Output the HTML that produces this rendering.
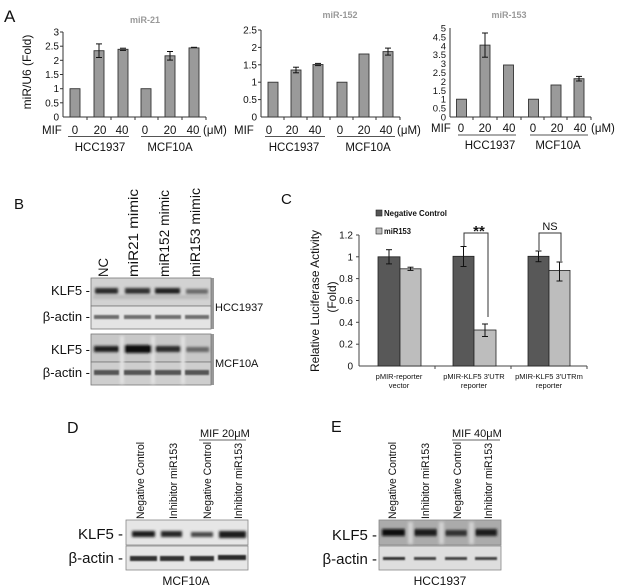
<!DOCTYPE html>
<html><head><meta charset="utf-8">
<style>
html,body{margin:0;padding:0;background:#fff;}
svg{display:block;}
text{font-family:"Liberation Sans",Arial,sans-serif;fill:#111;}
</style></head>
<body>
<svg width="618" height="588" viewBox="0 0 618 588" xmlns="http://www.w3.org/2000/svg">
<defs>
<filter id="bl" x="-20%" y="-100%" width="140%" height="300%"><feGaussianBlur stdDeviation="1.3"/></filter>
<filter id="bl2" x="-20%" y="-100%" width="140%" height="300%"><feGaussianBlur stdDeviation="0.9"/></filter>
</defs>

<!-- ================= PANEL A ================= -->
<text x="4" y="22" font-size="17">A</text>
<text transform="translate(31,72) rotate(-90)" font-size="12" text-anchor="middle">miR/U6 (Fold)</text>

<!-- Chart A1 -->
<text x="145" y="23" font-size="9" font-weight="bold" fill="#999" style="fill:#999" text-anchor="middle">miR-21</text>
<g font-size="10" text-anchor="end">
<text x="59" y="35.5">3</text><text x="59" y="49.7">2.5</text><text x="59" y="63.8">2</text>
<text x="59" y="78">1.5</text><text x="59" y="92.2">1</text><text x="59" y="106.3">0.5</text><text x="59" y="120.5">0</text>
</g>
<g stroke="#333" stroke-width="1">
<line x1="63" y1="32" x2="63" y2="117"/><line x1="63" y1="117" x2="206" y2="117"/>
<line x1="60" y1="32" x2="63" y2="32"/><line x1="60" y1="46.2" x2="63" y2="46.2"/><line x1="60" y1="60.3" x2="63" y2="60.3"/>
<line x1="60" y1="74.5" x2="63" y2="74.5"/><line x1="60" y1="88.7" x2="63" y2="88.7"/><line x1="60" y1="102.8" x2="63" y2="102.8"/>
<line x1="87" y1="117" x2="87" y2="120"/><line x1="111" y1="117" x2="111" y2="120"/><line x1="135" y1="117" x2="135" y2="120"/>
<line x1="158" y1="117" x2="158" y2="120"/><line x1="182" y1="117" x2="182" y2="120"/><line x1="206" y1="117" x2="206" y2="120"/>
</g>
<g fill="#9a9a9a" stroke="#333" stroke-width="0.9">
<rect x="70" y="88.7" width="10" height="28.3"/><rect x="94" y="50.7" width="10" height="66.3"/>
<rect x="118" y="49.3" width="10" height="67.7"/><rect x="141" y="88.7" width="10" height="28.3"/>
<rect x="165" y="55.8" width="10" height="61.2"/><rect x="189" y="47.9" width="10" height="69.1"/>
</g>
<g stroke="#111" stroke-width="1">
<line x1="99" y1="43.9" x2="99" y2="57.5"/><line x1="96" y1="43.9" x2="102" y2="43.9"/><line x1="96" y1="57.5" x2="102" y2="57.5"/>
<line x1="120" y1="48.2" x2="126" y2="48.2"/><line x1="120" y1="50.4" x2="126" y2="50.4"/>
<line x1="170" y1="51.5" x2="170" y2="60.1"/><line x1="167" y1="51.5" x2="173" y2="51.5"/><line x1="167" y1="60.1" x2="173" y2="60.1"/>
<line x1="191" y1="47.3" x2="197" y2="47.3"/>
</g>
<g font-size="11.5">
<text x="42" y="134">MIF</text>
<text x="75" y="134" text-anchor="middle">0</text><text x="100" y="134" text-anchor="middle">20</text><text x="122" y="134" text-anchor="middle">40</text>
<text x="145" y="134" text-anchor="middle">0</text><text x="170" y="134" text-anchor="middle">20</text><text x="193" y="134" text-anchor="middle">40</text>
<text x="203" y="134">(μM)</text>
<text x="100" y="151" text-anchor="middle">HCC1937</text><text x="170" y="151" text-anchor="middle">MCF10A</text>
</g>
<g stroke="#555" stroke-width="1"><line x1="68" y1="136.5" x2="129" y2="136.5"/><line x1="141" y1="136.5" x2="201" y2="136.5"/></g>

<!-- Chart A2 -->
<text x="340" y="18" font-size="9" font-weight="bold" style="fill:#999" text-anchor="middle">miR-152</text>
<g font-size="10" text-anchor="end">
<text x="257" y="33.5">2.5</text><text x="257" y="50.9">2</text><text x="257" y="68.3">1.5</text>
<text x="257" y="85.7">1</text><text x="257" y="103.1">0.5</text><text x="257" y="120.5">0</text>
</g>
<g stroke="#333" stroke-width="1">
<line x1="261" y1="30" x2="261" y2="117"/><line x1="261" y1="117" x2="400" y2="117"/>
<line x1="258" y1="30" x2="261" y2="30"/><line x1="258" y1="47.4" x2="261" y2="47.4"/><line x1="258" y1="64.8" x2="261" y2="64.8"/>
<line x1="258" y1="82.2" x2="261" y2="82.2"/><line x1="258" y1="99.6" x2="261" y2="99.6"/>
<line x1="284" y1="117" x2="284" y2="120"/><line x1="307" y1="117" x2="307" y2="120"/><line x1="330" y1="117" x2="330" y2="120"/>
<line x1="353" y1="117" x2="353" y2="120"/><line x1="376" y1="117" x2="376" y2="120"/><line x1="400" y1="117" x2="400" y2="120"/>
</g>
<g fill="#9a9a9a" stroke="#333" stroke-width="0.9">
<rect x="268" y="82.2" width="10" height="34.8"/><rect x="291" y="70" width="10" height="47"/>
<rect x="313" y="64.5" width="10" height="52.5"/><rect x="337" y="82.2" width="10" height="34.8"/>
<rect x="359" y="54" width="10" height="63"/><rect x="383" y="51.6" width="10" height="65.4"/>
</g>
<g stroke="#111" stroke-width="1">
<line x1="296" y1="67.2" x2="296" y2="72.8"/><line x1="293" y1="67.2" x2="299" y2="67.2"/><line x1="293" y1="72.8" x2="299" y2="72.8"/>
<line x1="315" y1="63.4" x2="321" y2="63.4"/><line x1="315" y1="65.6" x2="321" y2="65.6"/>
<line x1="388" y1="48.1" x2="388" y2="55.1"/><line x1="385" y1="48.1" x2="391" y2="48.1"/><line x1="385" y1="55.1" x2="391" y2="55.1"/>
</g>
<g font-size="11.5">
<text x="234" y="134">MIF</text>
<text x="269" y="134" text-anchor="middle">0</text><text x="292" y="134" text-anchor="middle">20</text><text x="315" y="134" text-anchor="middle">40</text>
<text x="340" y="134" text-anchor="middle">0</text><text x="364" y="134" text-anchor="middle">20</text><text x="386" y="134" text-anchor="middle">40</text>
<text x="397" y="134">(μM)</text>
<text x="294" y="151" text-anchor="middle">HCC1937</text><text x="368" y="151" text-anchor="middle">MCF10A</text>
</g>
<g stroke="#555" stroke-width="1"><line x1="265" y1="136.5" x2="325" y2="136.5"/><line x1="337" y1="136.5" x2="395" y2="136.5"/></g>

<!-- Chart A3 -->
<text x="509" y="18" font-size="9" font-weight="bold" style="fill:#999" text-anchor="middle">miR-153</text>
<g font-size="9.5" text-anchor="end">
<text x="446" y="31.5">5</text><text x="446" y="40.4">4.5</text><text x="446" y="49.3">4</text><text x="446" y="58.2">3.5</text>
<text x="446" y="67.1">3</text><text x="446" y="76">2.5</text><text x="446" y="84.9">2</text><text x="446" y="93.8">1.5</text>
<text x="446" y="102.7">1</text><text x="446" y="111.6">0.5</text><text x="446" y="120.5">0</text>
</g>
<g stroke="#333" stroke-width="1">
<line x1="450" y1="28" x2="450" y2="117"/><line x1="450" y1="117" x2="591" y2="117"/>
<line x1="473" y1="117" x2="473" y2="120"/><line x1="497" y1="117" x2="497" y2="120"/><line x1="521" y1="117" x2="521" y2="120"/>
<line x1="544" y1="117" x2="544" y2="120"/><line x1="567" y1="117" x2="567" y2="120"/><line x1="591" y1="117" x2="591" y2="120"/>
</g>
<g fill="#9a9a9a" stroke="#333" stroke-width="0.9">
<rect x="456.5" y="99.2" width="10" height="17.8"/><rect x="480" y="45.1" width="10" height="71.9"/>
<rect x="503.5" y="65" width="10" height="52"/><rect x="528.5" y="99.2" width="10" height="17.8"/>
<rect x="551" y="85" width="10" height="32"/><rect x="574" y="78.7" width="10" height="38.3"/>
</g>
<g stroke="#111" stroke-width="1">
<line x1="485" y1="33" x2="485" y2="57.2"/><line x1="482" y1="33" x2="488" y2="33"/><line x1="482" y1="57.2" x2="488" y2="57.2"/>
<line x1="579" y1="76.4" x2="579" y2="81"/><line x1="576" y1="76.4" x2="582" y2="76.4"/><line x1="576" y1="81" x2="582" y2="81"/>
</g>
<g font-size="11.5">
<text x="431" y="132">MIF</text>
<text x="461" y="132" text-anchor="middle">0</text><text x="485" y="132" text-anchor="middle">20</text><text x="509" y="132" text-anchor="middle">40</text>
<text x="533" y="132" text-anchor="middle">0</text><text x="557" y="132" text-anchor="middle">20</text><text x="580" y="132" text-anchor="middle">40</text>
<text x="591" y="132">(μM)</text>
<text x="490" y="149" text-anchor="middle">HCC1937</text><text x="558" y="149" text-anchor="middle">MCF10A</text>
</g>
<g stroke="#555" stroke-width="1"><line x1="458" y1="135" x2="516" y2="135"/><line x1="530" y1="135" x2="588" y2="135"/></g>

<!-- ================= PANEL B ================= -->
<text x="14" y="209" font-size="15">B</text>
<g font-size="14">
<text transform="translate(108,277) rotate(-90)" textLength="19" lengthAdjust="spacingAndGlyphs">NC</text>
<text transform="translate(138,277) rotate(-90)" textLength="88" lengthAdjust="spacingAndGlyphs">miR21 mimic</text>
<text transform="translate(169,277) rotate(-90)" textLength="87" lengthAdjust="spacingAndGlyphs">miR152 mimic</text>
<text transform="translate(200,277) rotate(-90)" textLength="89" lengthAdjust="spacingAndGlyphs">miR153 mimic</text>
</g>
<!-- blot 1 -->
<rect x="91" y="278" width="123" height="51" fill="#999"/>
<rect x="91" y="278" width="120" height="28" fill="#d2d2d2" stroke="#777" stroke-width="0.8"/>
<rect x="91" y="306" width="120" height="23" fill="#e4e4e4" stroke="#777" stroke-width="0.8"/>
<g filter="url(#bl)">
<rect x="95" y="288" width="23" height="6" fill="#2a2a2a"/>
<rect x="125" y="288" width="25" height="6" fill="#333"/>
<rect x="155" y="288" width="25" height="6" fill="#222"/>
<rect x="186" y="289" width="22" height="5" fill="#6a6a6a"/>
<rect x="93" y="295" width="116" height="4" fill="#bbb"/>
</g>
<g filter="url(#bl2)">
<rect x="94" y="315" width="25" height="4" fill="#6e6e6e"/>
<rect x="124" y="315" width="27" height="4" fill="#707070"/>
<rect x="155" y="315" width="26" height="4" fill="#707070"/>
<rect x="185" y="315" width="24" height="4" fill="#707070"/>
</g>
<!-- blot 2 -->
<rect x="91" y="334" width="123" height="51" fill="#999"/>
<rect x="91" y="334" width="120" height="28" fill="#c8c8c8" stroke="#777" stroke-width="0.8"/>
<rect x="91" y="362" width="120" height="23" fill="#cecece" stroke="#777" stroke-width="0.8"/>
<g filter="url(#bl)">
<rect x="120" y="336" width="4" height="48" fill="#e0e0e0"/>
<rect x="151" y="336" width="4" height="48" fill="#e0e0e0"/>
<rect x="181" y="336" width="4" height="48" fill="#e0e0e0"/>
<rect x="94" y="346" width="25" height="6" fill="#1e1e1e"/>
<rect x="124" y="345" width="28" height="8" fill="#0a0a0a"/>
<rect x="155" y="346" width="26" height="6" fill="#2a2a2a"/>
<rect x="186" y="347" width="23" height="5" fill="#666"/>
</g>
<g filter="url(#bl2)">
<rect x="94" y="370" width="25" height="5" fill="#555"/>
<rect x="124" y="370" width="27" height="5" fill="#555"/>
<rect x="155" y="370" width="26" height="5" fill="#555"/>
<rect x="185" y="370" width="24" height="5" fill="#555"/>
</g>
<g font-size="13" text-anchor="end">
<text x="90" y="295">KLF5 -</text>
<text x="90" y="321">β-actin -</text>
<text x="90" y="354">KLF5 -</text>
<text x="90" y="377">β-actin -</text>
</g>
<g font-size="11">
<text x="215" y="311">HCC1937</text>
<text x="215" y="367">MCF10A</text>
</g>

<!-- ================= PANEL C ================= -->
<text x="281" y="204" font-size="15">C</text>
<rect x="376" y="210" width="6" height="6" fill="#555" stroke="#222" stroke-width="0.6"/>
<text x="384" y="216" font-size="8" font-weight="bold" textLength="63" lengthAdjust="spacingAndGlyphs">Negative Control</text>
<rect x="376" y="228" width="6" height="6" fill="#bdbdbd" stroke="#222" stroke-width="0.6"/>
<text x="384" y="234" font-size="8" font-weight="bold" textLength="27" lengthAdjust="spacingAndGlyphs">miR153</text>

<text transform="translate(319,301) rotate(-90)" font-size="12" text-anchor="middle" textLength="142" lengthAdjust="spacingAndGlyphs">Relative Luciferase Activity</text>
<text transform="translate(336,297) rotate(-90)" font-size="12" text-anchor="middle">(Fold)</text>
<g font-size="10" text-anchor="end">
<text x="353" y="238.5">1.2</text><text x="353" y="260.3">1</text><text x="353" y="282.1">0.8</text>
<text x="353" y="304">0.6</text><text x="353" y="325.8">0.4</text><text x="353" y="347.7">0.2</text><text x="353" y="369.5">0</text>
</g>
<g stroke="#444" stroke-width="1">
<line x1="359" y1="235" x2="359" y2="366"/><line x1="359" y1="366" x2="587" y2="366"/>
<line x1="356" y1="235" x2="359" y2="235"/><line x1="356" y1="256.8" x2="359" y2="256.8"/><line x1="356" y1="278.6" x2="359" y2="278.6"/>
<line x1="356" y1="300.5" x2="359" y2="300.5"/><line x1="356" y1="322.3" x2="359" y2="322.3"/><line x1="356" y1="344.2" x2="359" y2="344.2"/>
<line x1="435" y1="366" x2="435" y2="369"/><line x1="511" y1="366" x2="511" y2="369"/><line x1="587" y1="366" x2="587" y2="369"/>
</g>
<g stroke="#222" stroke-width="0.8">
<rect x="378" y="256.8" width="22" height="109.2" fill="#585858"/>
<rect x="400" y="268.8" width="21" height="97.2" fill="#bdbdbd"/>
<rect x="453" y="256.3" width="21" height="109.7" fill="#585858"/>
<rect x="474" y="330" width="22" height="36" fill="#bdbdbd"/>
<rect x="528" y="256.3" width="21" height="109.7" fill="#585858"/>
<rect x="549" y="270.4" width="21" height="95.6" fill="#bdbdbd"/>
</g>
<g stroke="#111" stroke-width="1">
<line x1="389" y1="249.7" x2="389" y2="263.9"/><line x1="386" y1="249.7" x2="392" y2="249.7"/><line x1="386" y1="263.9" x2="392" y2="263.9"/>
<line x1="410.5" y1="267.2" x2="410.5" y2="270.4"/><line x1="407.5" y1="267.2" x2="413.5" y2="267.2"/><line x1="407.5" y1="270.4" x2="413.5" y2="270.4"/>
<line x1="463.5" y1="246.5" x2="463.5" y2="266.5"/><line x1="460.5" y1="246.5" x2="466.5" y2="246.5"/><line x1="460.5" y1="266.5" x2="466.5" y2="266.5"/>
<line x1="485" y1="324" x2="485" y2="336.5"/><line x1="482" y1="324" x2="488" y2="324"/><line x1="482" y1="336.5" x2="488" y2="336.5"/>
<line x1="538.5" y1="251" x2="538.5" y2="261.7"/><line x1="535.5" y1="251" x2="541.5" y2="251"/><line x1="535.5" y1="261.7" x2="541.5" y2="261.7"/>
<line x1="559.5" y1="262" x2="559.5" y2="281"/><line x1="556.5" y1="262" x2="562.5" y2="262"/><line x1="556.5" y1="281" x2="562.5" y2="281"/>
</g>
<g stroke="#333" stroke-width="1" fill="none">
<polyline points="464,246 464,233 488,233 488,317"/>
<polyline points="539,250 539,233 561,233 561,261"/>
</g>
<text x="479" y="236" font-size="15" font-weight="bold" text-anchor="middle">**</text>
<text x="550" y="230" font-size="11" text-anchor="middle">NS</text>
<g font-size="7.5" text-anchor="middle" style="fill:#222">
<text x="399" y="379">pMIR-reporter</text><text x="399" y="388">vector</text>
<text x="474" y="379">pMIR-KLF5 3'UTR</text><text x="474" y="388">reporter</text>
<text x="549" y="379">pMIR-KLF5 3'UTRm</text><text x="549" y="388">reporter</text>
</g>

<!-- ================= PANEL D ================= -->
<text x="67" y="433" font-size="16">D</text>
<text x="200" y="437" font-size="11">MIF 20μM</text>
<line x1="199" y1="440" x2="246" y2="440" stroke="#666" stroke-width="1"/>
<g font-size="11">
<text transform="translate(144,519) rotate(-90)" textLength="77" lengthAdjust="spacingAndGlyphs">Negative Control</text>
<text transform="translate(177,519) rotate(-90)" textLength="76" lengthAdjust="spacingAndGlyphs">Inhibitor miR153</text>
<text transform="translate(211,519) rotate(-90)" textLength="77" lengthAdjust="spacingAndGlyphs">Negative Control</text>
<text transform="translate(242,519) rotate(-90)" textLength="76" lengthAdjust="spacingAndGlyphs">Inhibitor miR153</text>
</g>
<rect x="126" y="520" width="122" height="25" fill="#e6e6e6" stroke="#888" stroke-width="0.8"/>
<rect x="126" y="546" width="122" height="24" fill="#e6e6e6" stroke="#888" stroke-width="0.8"/>
<g filter="url(#bl)">
<rect x="132" y="531" width="23" height="6" fill="#1e1e1e"/>
<rect x="161" y="531" width="21" height="6" fill="#262626"/>
<rect x="191" y="532" width="22" height="5" fill="#4a4a4a"/>
<rect x="219" y="531" width="27" height="7" fill="#1a1a1a"/>
</g>
<g filter="url(#bl2)">
<rect x="130" y="556" width="27" height="5" fill="#333"/>
<rect x="160" y="556" width="24" height="5" fill="#333"/>
<rect x="190" y="556" width="24" height="5" fill="#333"/>
<rect x="218" y="555" width="28" height="5" fill="#2a2a2a"/>
</g>
<g font-size="15" text-anchor="end">
<text x="123" y="539">KLF5 -</text>
<text x="123" y="563">β-actin -</text>
</g>
<text x="186" y="585" font-size="12" text-anchor="middle">MCF10A</text>

<!-- ================= PANEL E ================= -->
<text x="331" y="432" font-size="16">E</text>
<text x="452" y="437" font-size="11">MIF 40μM</text>
<line x1="452" y1="440" x2="500" y2="440" stroke="#666" stroke-width="1"/>
<g font-size="11">
<text transform="translate(396,519) rotate(-90)" textLength="77" lengthAdjust="spacingAndGlyphs">Negative Control</text>
<text transform="translate(429,519) rotate(-90)" textLength="76" lengthAdjust="spacingAndGlyphs">Inhibitor miR153</text>
<text transform="translate(461,519) rotate(-90)" textLength="77" lengthAdjust="spacingAndGlyphs">Negative Control</text>
<text transform="translate(492,519) rotate(-90)" textLength="76" lengthAdjust="spacingAndGlyphs">Inhibitor miR153</text>
</g>
<rect x="379" y="520" width="122" height="25" fill="#ababab" stroke="#888" stroke-width="0.8"/>
<g filter="url(#bl)">
<rect x="408" y="522" width="5" height="22" fill="#d0d0d0"/>
<rect x="439" y="522" width="5" height="22" fill="#d0d0d0"/>
<rect x="469" y="522" width="5" height="22" fill="#d0d0d0"/>
<rect x="382" y="529" width="23" height="7" fill="#111"/>
<rect x="414" y="529" width="23" height="7" fill="#1a1a1a"/>
<rect x="445" y="530" width="22" height="6" fill="#333"/>
<rect x="475" y="529" width="22" height="7" fill="#1a1a1a"/>
</g>
<rect x="379" y="546" width="122" height="24" fill="#dedede" stroke="#888" stroke-width="0.8"/>
<g filter="url(#bl2)">
<rect x="383" y="557" width="22" height="3" fill="#333"/>
<rect x="414" y="557" width="22" height="3" fill="#444"/>
<rect x="445" y="557" width="22" height="3" fill="#444"/>
<rect x="475" y="557" width="22" height="3" fill="#444"/>
</g>
<g font-size="15" text-anchor="end">
<text x="377" y="540">KLF5 -</text>
<text x="377" y="564">β-actin -</text>
</g>
<text x="440" y="585" font-size="12" text-anchor="middle">HCC1937</text>
</svg>
</body></html>
